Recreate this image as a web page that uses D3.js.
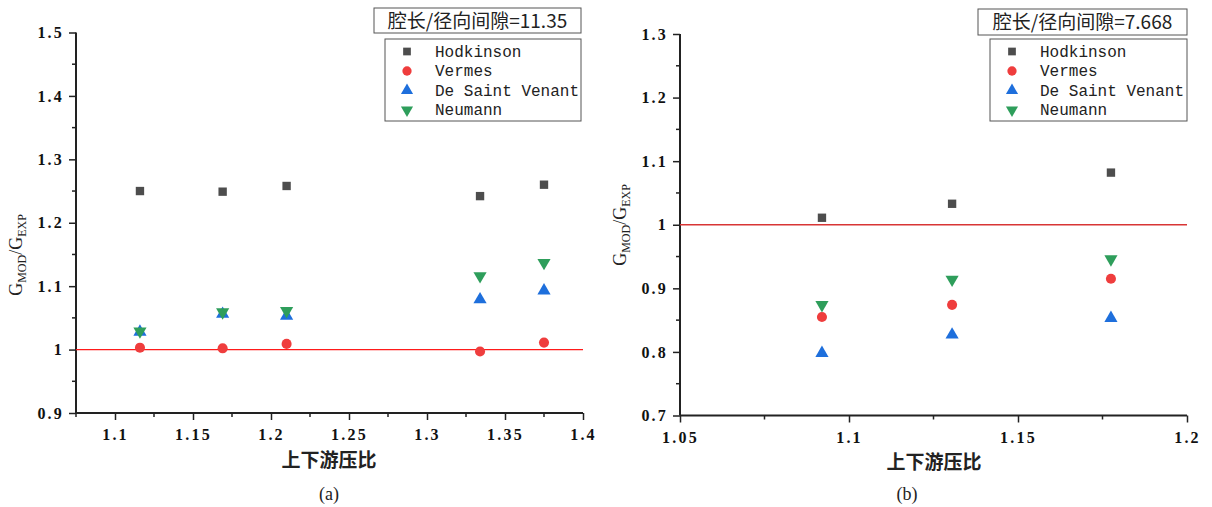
<!DOCTYPE html>
<html><head><meta charset="utf-8">
<script src="https://cdn.jsdelivr.net/npm/d3@7"></script>
<style>
body{margin:0;background:#fff;}
svg{display:block;}
</style></head>
<body>
<svg id="c" width="1212" height="507"></svg>
<script>
const seriesNames = ["Hodkinson", "Vermes", "De Saint Venant", "Neumann"];
const seriesColors = ["#4d4d4d", "#ef3d3d", "#1e6fdc", "#2e9e5b"];
const seriesSymbols = [d3.symbolSquare, d3.symbolCircle, d3.symbolTriangle, "triDown"];

// Panel (a): 腔长/径向间隙=11.35
const xA = [1.116, 1.169, 1.21, 1.334, 1.375];
const hodA = [1.250, 1.249, 1.258, 1.242, 1.260];
const verA = [1.003, 1.002, 1.009, 0.997, 1.011];
const dsvA = [1.028, 1.056, 1.053, 1.079, 1.093];
const neuA = [1.029, 1.059, 1.061, 1.116, 1.137];
const xTicksA = [1.1, 1.15, 1.2, 1.25, 1.3, 1.35, 1.4];
const yTicksA = [0.9, 1.0, 1.1, 1.2, 1.3, 1.4, 1.5];

// Panel (b): 腔长/径向间隙=7.668
const xB = [1.092, 1.1305, 1.1775];
const hodB = [1.011, 1.033, 1.082];
const verB = [0.855, 0.874, 0.915];
const dsvB = [0.798, 0.827, 0.853];
const neuB = [0.874, 0.914, 0.946];
const xTicksB = [1.05, 1.1, 1.15, 1.2];
const yTicksB = [0.7, 0.8, 0.9, 1.0, 1.1, 1.2, 1.3];

const svg = d3.select("#c");
const monoFont = "'Liberation Mono', 'DejaVu Sans Mono', monospace";
const cjkFont = "'Noto Sans CJK SC', sans-serif";
const serifFont = "'Liberation Serif', 'DejaVu Serif', serif";

function triDown(size){
  const s = Math.sqrt(size*4/Math.sqrt(3));
  const h = s*Math.sqrt(3)/2;
  return `M${-s/2},${-h/3}L${s/2},${-h/3}L0,${2*h/3}Z`;
}
function symPath(sym, size){
  if (sym === "triDown") return triDown(size);
  return d3.symbol(sym, size)();
}
const symSizes = [70, 80, 75, 75];

function panel(cfg){
  const g = svg.append("g");
  const x = d3.scaleLinear().domain(cfg.xDomain).range(cfg.xRange);
  const y = d3.scaleLinear().domain(cfg.yDomain).range(cfg.yRange);

  const xMinor = d3.range(cfg.xTicks.length - 1).map(i => (cfg.xTicks[i] + cfg.xTicks[i+1]) / 2)
    .concat(cfg.xTicks[0] - (cfg.xTicks[1]-cfg.xTicks[0])/2)
    .filter(v => v >= cfg.xDomain[0] - 1e-9 && v <= cfg.xDomain[1] + 1e-9);
  const yMinor = d3.range(cfg.yTicks.length - 1).map(i => (cfg.yTicks[i] + cfg.yTicks[i+1]) / 2);

  const gx = g.append("g").attr("transform", `translate(0,${cfg.yRange[0]})`)
    .call(d3.axisBottom(x).tickValues(cfg.xTicks).tickSize(7).tickPadding(9)
      .tickFormat(d => String(+d.toFixed(3))));
  gx.append("g").selectAll("line").data(xMinor).join("line")
    .attr("x1", d => x(d)).attr("x2", d => x(d)).attr("y1", 0).attr("y2", 4)
    .attr("stroke", "#222").attr("stroke-width", 1.5);
  const gy = g.append("g").attr("transform", `translate(${cfg.xRange[0]},0)`)
    .call(d3.axisLeft(y).tickValues(cfg.yTicks).tickSize(7).tickPadding(5)
      .tickFormat(d => String(+d.toFixed(3))));
  gy.append("g").selectAll("line").data(yMinor).join("line")
    .attr("x1", 0).attr("x2", -4).attr("y1", d => y(d)).attr("y2", d => y(d))
    .attr("stroke", "#222").attr("stroke-width", 1.5);
  [gx, gy].forEach(a => {
    a.select(".domain").attr("stroke", "#222").attr("stroke-width", 2);
    a.selectAll(".tick line").attr("stroke", "#222").attr("stroke-width", 1.5);
    a.selectAll(".tick text").attr("font-family", serifFont).attr("font-size", 16)
      .attr("fill", "#111").attr("font-weight", "bold").attr("letter-spacing", 2.2);
  });
  gy.select(".domain").attr("d", `M0,${cfg.yRange[0]}V${cfg.yRange[1]}`);
  gx.select(".domain").attr("d", `M${cfg.xRange[0]},0H${cfg.xRange[1]}`);

  g.append("line").attr("x1", x(cfg.xDomain[0])).attr("x2", x(cfg.xDomain[1]))
    .attr("y1", y(1)).attr("y2", y(1)).attr("stroke", cfg.refColor).attr("stroke-width", 1.3);

  cfg.series.forEach((vals, si) => {
    g.append("g").selectAll("path").data(vals).join("path")
      .attr("d", symPath(seriesSymbols[si], symSizes[si]))
      .attr("transform", (d, i) => `translate(${x(cfg.xs[i])},${y(d)})`)
      .attr("fill", seriesColors[si]);
  });

  g.append("text").attr("x", cfg.xTitle[0]).attr("y", cfg.xTitle[1])
    .attr("text-anchor", "middle").attr("font-family", cjkFont).attr("font-size", 19)
    .attr("font-weight", "bold").attr("fill", "#222").text("上下游压比");
  g.append("text").attr("x", cfg.cap[0]).attr("y", cfg.cap[1])
    .attr("text-anchor", "middle").attr("font-family", serifFont).attr("font-size", 18)
    .attr("fill", "#222").text(cfg.capText);
  const yt = g.append("text")
    .attr("transform", `translate(${cfg.yTitle[0]},${cfg.yTitle[1]}) rotate(-90)`)
    .attr("text-anchor", "middle").attr("font-family", serifFont).attr("font-size", 18).attr("fill", "#222");
  yt.append("tspan").text("G");
  yt.append("tspan").text("MOD").attr("font-size", 12).attr("dy", 4);
  yt.append("tspan").text("/G").attr("dy", -4);
  yt.append("tspan").text("EXP").attr("font-size", 12).attr("dy", 4);

  const tb = cfg.titleBox;
  g.append("rect").attr("x", tb[0]).attr("y", tb[1]).attr("width", tb[2]).attr("height", tb[3])
    .attr("fill", "#fff").attr("stroke", "#555").attr("stroke-width", 1);
  g.append("text").attr("x", tb[0] + tb[2]/2).attr("y", tb[1] + tb[3]/2 + 7)
    .attr("text-anchor", "middle").attr("font-family", cjkFont).attr("font-size", 19)
    .attr("fill", "#222").text(cfg.title);

  const lb = cfg.legBox;
  g.append("rect").attr("x", lb[0]).attr("y", lb[1]).attr("width", lb[2]).attr("height", lb[3])
    .attr("fill", "#fff").attr("stroke", "#555").attr("stroke-width", 1);
  seriesNames.forEach((n, i) => {
    const cy = lb[1] + 12.5 + i * 19.5;
    g.append("path").attr("d", symPath(seriesSymbols[i], symSizes[i] * 0.85))
      .attr("transform", `translate(${lb[0] + 22},${cy})`).attr("fill", seriesColors[i]);
    g.append("text").attr("x", lb[0] + 50).attr("y", cy + 5)
      .attr("font-family", monoFont).attr("font-size", 16).attr("fill", "#222").text(n);
  });
}

panel({
  xDomain: [1.075, 1.4], xRange: [76, 583],
  yDomain: [0.9, 1.5], yRange: [413, 32.5],
  xTicks: xTicksA, yTicks: yTicksA,
  xs: xA, series: [hodA, verA, dsvA, neuA],
  refColor: "#ff1a1a",
  xTitle: [329, 467], cap: [329, 500], capText: "(a)",
  yTitle: [22, 255],
  titleBox: [374, 8, 207, 25], title: "腔长/径向间隙=11.35",
  legBox: [385, 39, 196, 82]
});
panel({
  xDomain: [1.05, 1.2], xRange: [680, 1187],
  yDomain: [0.7, 1.3], yRange: [415.5, 34],
  xTicks: xTicksB, yTicks: yTicksB,
  xs: xB, series: [hodB, verB, dsvB, neuB],
  refColor: "#d83535",
  xTitle: [934, 469], cap: [907, 500], capText: "(b)",
  yTitle: [626, 225],
  titleBox: [978, 9, 209, 26], title: "腔长/径向间隙=7.668",
  legBox: [990, 39, 197, 82]
});
</script>
</body></html>
